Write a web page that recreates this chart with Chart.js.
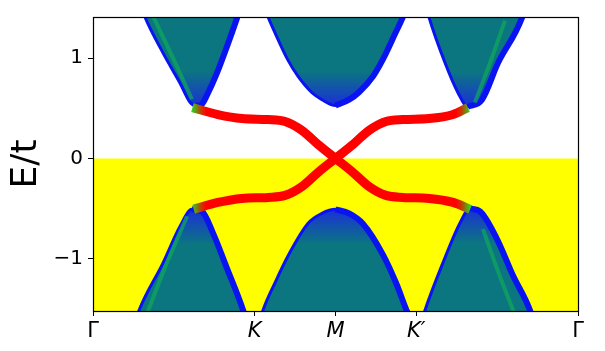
<!DOCTYPE html>
<html>
<head>
<meta charset="utf-8">
<script src="https://cdn.jsdelivr.net/npm/chart.js@4.4.0/dist/chart.umd.min.js"></script>
<style>
  html, body { margin: 0; padding: 0; background: #fff; }
</style>
</head>
<body>
<canvas id="bands" width="605" height="351"></canvas>
<script>
// --- axis ticks ---
const tickK = [0, 0.6667, 1, 1.3333, 2];
const tickLabels = ["Γ", "K", "M", "K′", "Γ"];
const tickE = [-1, 0, 1];

// --- bulk bands (edge of each pocket, k in units of pi) ---
const ulK = [0.19, 0.214, 0.289, 0.359, 0.400, 0.425, 0.449, 0.470, 0.511, 0.553, 0.594, 0.61];
const ulE = [1.57, 1.41, 1.05, 0.75, 0.56, 0.525, 0.54, 0.63, 0.85, 1.12, 1.40, 1.52];

const umK = [0.70, 0.722, 0.751, 0.804, 0.845, 0.903, 0.944, 1.0, 1.056, 1.097, 1.155, 1.196, 1.249, 1.278, 1.30];
const umE = [1.56, 1.41, 1.25, 0.98, 0.82, 0.655, 0.586, 0.527, 0.586, 0.66, 0.82, 0.99, 1.26, 1.41, 1.56];

const urK = [1.37, 1.386, 1.452, 1.505, 1.546, 1.604, 1.670, 1.769, 1.79];
const urE = [1.55, 1.404, 0.951, 0.655, 0.515, 0.586, 0.951, 1.404, 1.58];

const llK = [0.177, 0.190, 0.289, 0.359, 0.408, 0.449, 0.495, 0.553, 0.619, 0.631];
const llE = [-1.61, -1.513, -1.04, -0.675, -0.507, -0.527, -0.744, -1.098, -1.513, -1.61];

const lmK = [0.69, 0.701, 0.751, 0.804, 0.887, 0.944, 1.0, 1.056, 1.113, 1.196, 1.249, 1.293, 1.31];
const lmE = [-1.61, -1.513, -1.236, -0.971, -0.645, -0.547, -0.507, -0.547, -0.65, -0.96, -1.236, -1.513, -1.61];

const lrK = [1.357, 1.369, 1.443, 1.513, 1.555, 1.596, 1.666, 1.732, 1.802, 1.814];
const lrE = [-1.61, -1.513, -1.04, -0.645, -0.498, -0.527, -0.803, -1.167, -1.513, -1.61];

// green streaks inside the pockets
const ulStreakK = [0.247, 0.33, 0.408];
const ulStreakE = [1.42, 1.0, 0.59];
const urStreakK = [1.575, 1.637, 1.699];
const urStreakE = [0.557, 0.951, 1.374];
const llStreakK = [0.225, 0.305, 0.388];
const llStreakE = [-1.53, -1.04, -0.576];
const lrStreakK = [1.608, 1.666, 1.735];
const lrStreakE = [-0.704, -1.098, -1.53];

// --- edge states ---
const edgeAK = [0.41, 0.515, 0.614, 0.722, 0.792, 0.862, 0.928, 1.0, 1.072, 1.138, 1.208, 1.278, 1.386, 1.485, 1.555];
const edgeAE = [0.507, 0.438, 0.398, 0.388, 0.368, 0.279, 0.139, 0, -0.139, -0.279, -0.368, -0.388, -0.398, -0.438, -0.507];
const edgeBK = [0.415, 0.515, 0.614, 0.722, 0.792, 0.862, 0.928, 1.0, 1.072, 1.138, 1.208, 1.278, 1.386, 1.485, 1.546];
const edgeBE = [-0.505, -0.438, -0.398, -0.388, -0.368, -0.279, -0.139, 0, 0.139, 0.279, 0.368, 0.388, 0.398, 0.438, 0.507];

// --- colours ---
const teal = "#0b7680";
const blueEdge = "#0a14f0";
const streakGreen = "rgba(16,170,90,0.7)";
const FONT = "'DejaVu Sans', sans-serif";

function pts(ks, es) {
  return ks.map((k, i) => ({ x: k, y: es[i] }));
}

function tipIndex(es, dir) {
  return dir > 0 ? es.indexOf(Math.min(...es)) : es.indexOf(Math.max(...es));
}

// vertical gradient: blue at the band tip, teal further away
function bandFill(es, dir) {
  const tip = es[tipIndex(es, dir)];
  return (c) => {
    const chart = c.chart;
    if (!chart.chartArea) return teal;
    const y = chart.scales.y;
    const g = chart.ctx.createLinearGradient(0, y.getPixelForValue(tip), 0, y.getPixelForValue(tip + dir * 0.35));
    g.addColorStop(0, "#1a30d8");
    g.addColorStop(1, teal);
    return g;
  };
}

function pocket(ks, es, dir) {
  return {
    data: pts(ks, es),
    showLine: true,
    pointRadius: 0,
    cubicInterpolationMode: "monotone",
    borderColor: blueEdge,
    borderWidth: 3,
    fill: dir > 0 ? "end" : "start",
    backgroundColor: bandFill(es, dir),
    clip: 0,
    order: 6
  };
}

// the heavier blue rim on the side facing M
function rim(ks, es, dir) {
  const i = tipIndex(es, dir);
  return {
    data: pts(ks.slice(i), es.slice(i)),
    showLine: true,
    pointRadius: 0,
    cubicInterpolationMode: "monotone",
    borderColor: blueEdge,
    borderWidth: 6,
    fill: false,
    clip: 0,
    order: 5
  };
}

function streak(ks, es) {
  return {
    data: pts(ks, es),
    showLine: true,
    pointRadius: 0,
    cubicInterpolationMode: "monotone",
    borderColor: streakGreen,
    borderWidth: 4,
    fill: false,
    clip: 0,
    order: 4
  };
}

function edgeColor(c) {
  const chart = c.chart;
  if (!chart.chartArea) return "#ff0000";
  const x = chart.scales.x;
  const a = x.getPixelForValue(0.41), b = x.getPixelForValue(1.555);
  const g = chart.ctx.createLinearGradient(a, 0, b, 0);
  g.addColorStop(0, "#30d020");
  g.addColorStop(0.03, "#c04000");
  g.addColorStop(0.05, "#ff0000");
  g.addColorStop(0.95, "#ff0000");
  g.addColorStop(0.97, "#c04000");
  g.addColorStop(1, "#30d020");
  return g;
}

function edge(ks, es) {
  return {
    data: pts(ks, es),
    showLine: true,
    pointRadius: 0,
    cubicInterpolationMode: "monotone",
    borderColor: edgeColor,
    borderWidth: 9,
    borderCapStyle: "butt",
    fill: false,
    clip: 0,
    order: 1
  };
}

// box round the plot, like matplotlib spines
const frame = {
  id: "frame",
  afterDatasetsDraw(chart) {
    const { ctx, chartArea: a } = chart;
    ctx.save();
    ctx.strokeStyle = "#000";
    ctx.lineWidth = 1.2;
    ctx.strokeRect(Math.round(a.left) + 0.5, Math.round(a.top) + 0.5,
      Math.round(a.right - a.left), Math.round(a.bottom - a.top));
    ctx.restore();
  }
};

Chart.defaults.color = "#000";
Chart.defaults.font.family = FONT;

new Chart(document.getElementById("bands").getContext("2d"), {
  type: "scatter",
  data: {
    datasets: [
      edge(edgeAK, edgeAE),
      edge(edgeBK, edgeBE),
      streak(ulStreakK, ulStreakE),
      streak(urStreakK, urStreakE),
      streak(llStreakK, llStreakE),
      streak(lrStreakK, lrStreakE),
      rim(ulK, ulE, 1),
      rim(umK, umE, 1),
      rim(urK, urE, 1),
      rim(llK, llE, -1),
      rim(lmK, lmE, -1),
      rim(lrK, lrE, -1),
      pocket(ulK, ulE, 1),
      pocket(umK, umE, 1),
      pocket(urK, urE, 1),
      pocket(llK, llE, -1),
      pocket(lmK, lmE, -1),
      pocket(lrK, lrE, -1),
      {
        // occupied states below the Fermi level
        data: [{ x: 0, y: 0 }, { x: 2, y: 0 }],
        showLine: true,
        pointRadius: 0,
        borderWidth: 0,
        fill: "start",
        backgroundColor: "#ffff00",
        clip: 0,
        order: 10
      }
    ]
  },
  options: {
    responsive: false,
    animation: false,
    events: [],
    layout: { padding: { left: 0, top: 13, right: 27, bottom: 0 } },
    plugins: { legend: { display: false }, tooltip: { enabled: false } },
    scales: {
      x: {
        type: "linear",
        min: 0,
        max: 2,
        afterBuildTicks: (s) => { s.ticks = tickK.map((v) => ({ value: v })); },
        afterFit: (s) => { s.height = 40; },
        ticks: {
          autoSkip: false,
          maxRotation: 0,
          padding: 3,
          callback: (v, i) => tickLabels[i],
          font: (c) => ({
            family: FONT,
            size: 21,
            style: (c.index === 0 || c.index === 4) ? "normal" : "italic"
          })
        },
        grid: { drawOnChartArea: false, tickLength: 5, color: "#000" },
        border: { color: "#000", width: 1 }
      },
      y: {
        type: "linear",
        min: -1.52,
        max: 1.41,
        afterBuildTicks: (s) => { s.ticks = tickE.map((v) => ({ value: v })); },
        afterFit: (s) => { s.width = 93; },
        ticks: {
          padding: 5,
          font: { family: FONT, size: 20 },
          callback: (v) => (v < 0 ? "\u2212" + Math.abs(v) : String(v))
        },
        title: {
          display: true,
          text: "E/t",
          font: { family: FONT, size: 36 },
          padding: { top: 5, bottom: 0 }
        },
        grid: { drawOnChartArea: false, tickLength: 5, color: "#000" },
        border: { color: "#000", width: 1 }
      }
    }
  },
  plugins: [frame]
});
</script>
</body>
</html>
